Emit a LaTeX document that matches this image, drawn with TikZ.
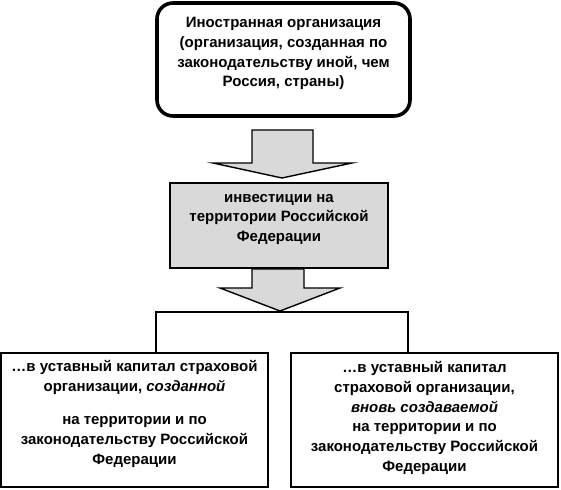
\documentclass[tikz,border=0pt]{standalone}
\usepackage{fontspec}
\setmainfont{Liberation Sans}
\begin{document}
\begin{tikzpicture}[x=1pt,y=-1pt,
  txt/.style={font=\bfseries\fontsize{15}{19.8}\selectfont, align=center, inner sep=0pt},
  topbox/.style={draw, line width=3.6pt, rounded corners=16pt, minimum width=253pt, minimum height=113pt, inner sep=0pt},
  graybox/.style={draw, fill=gray!30, line width=2.6pt, minimum width=218pt, minimum height=85pt, inner sep=0pt},
  botbox/.style={draw, line width=2.8pt, minimum width=267pt, minimum height=134pt, inner sep=0pt},
  bigarrow/.style={draw, fill=gray!30, line width=1.4pt, line join=miter},
  conn/.style={draw, line width=1.6pt}
]
\useasboundingbox (0,0) rectangle (561,489);

\node[topbox] (top) at (283.5,59.5) {};
\node[txt] (toptxt) at ([yshift=6pt]top.center) {Иностранная организация\\(организация, созданная по\\законодательству иной, чем\\Россия, страны)};

\node[graybox] (inv) at (279,225.5) {};
\node[txt] (invtxt) at ([yshift=6pt]inv.center) {инвестиции на\\территории Российской\\Федерации};

% upper arrow
\path[bigarrow] (252,130) -- (313,130) -- (313,163) -- (352,163) -- (282,178) -- (213,163) -- (252,163) -- cycle;
% lower arrow
\path[bigarrow] (252,269) -- (304,269) -- (304,288) -- (340,288) -- (280,311) -- (220,288) -- (252,288) -- cycle;

\node[botbox] (left) at (134.5,420) {};
\node[txt] (lefttxt) at ([yshift=6pt]left.center) {\ldots в уставный капитал страховой\\организации, \textit{созданной}\\[13.5pt]на территории и по\\законодательству Российской\\Федерации};
\node[botbox] (right) at (424.5,420) {};
\node[txt] (righttxt) at ([yshift=2pt]right.center) {\ldots в уставный капитал\\страховой организации,\\\textit{вновь создаваемой}\\на территории и по\\законодательству Российской\\Федерации};

\coordinate (split) at (280,312);
\draw[conn] ([xshift=21.5pt]left.north) |- (split) -| ([xshift=-16.5pt]right.north);
\end{tikzpicture}
\end{document}
